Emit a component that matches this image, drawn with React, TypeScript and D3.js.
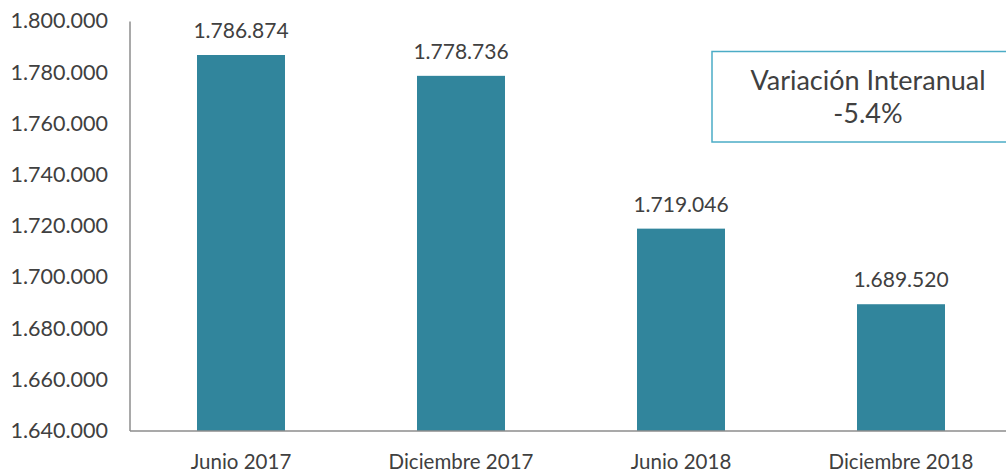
import React from "react";
import * as d3 from "d3";

const categories = ["Junio 2017", "Diciembre 2017", "Junio 2018", "Diciembre 2018"];
const values = [1786874, 1778736, 1719046, 1689520];
const yTicks = [1640000, 1660000, 1680000, 1700000, 1720000, 1740000, 1760000, 1780000, 1800000];
const boxLines = ["Variación Interanual", "-5.4%"];

const W = 1006;
const H = 473;
const FONT = "Lato, 'Open Sans', sans-serif";
const TEXT = "#404040";

const fmt = (v: number) =>
  d3.format(",")(v).replace(/,/g, ".");

export default function App() {
  const x = d3.scaleBand<string>().domain(categories).range([131, 1011]).paddingInner(0.6).paddingOuter(0.3);
  const y = d3.scaleLinear().domain([1640000, 1800000]).range([431, 21.4]);

  return (
    <div style={{ position: "absolute", left: 0, top: 0 }}>
      <svg width={W} height={H} style={{ display: "block", background: "#fff" }}>
        {/* bars */}
        {values.map((v, i) => (
          <rect
            key={i}
            x={x(categories[i])}
            y={y(v)}
            width={x.bandwidth()}
            height={y(1640000) - y(v)}
            fill="#31859C"
          />
        ))}
        {/* value labels */}
        {values.map((v, i) => (
          <text
            key={"l" + i}
            x={(x(categories[i]) as number) + x.bandwidth() / 2}
            y={y(v) - 17}
            textAnchor="middle"
            fontFamily={FONT}
            fontSize={21}
            fill={TEXT}
          >
            {fmt(v)}
          </text>
        ))}
        {/* axes */}
        <line x1={130} x2={130} y1={y(1800000)} y2={y(1640000)} stroke="#8c8c8c" strokeWidth={1.5} />
        <line x1={130} x2={W} y1={y(1640000)} y2={y(1640000)} stroke="#8c8c8c" strokeWidth={1.5} />
        {yTicks.map((t) => (
          <text
            key={t}
            x={108}
            y={y(t) + 7}
            textAnchor="end"
            fontFamily={FONT}
            fontSize={21.5}
            fill={TEXT}
          >
            {fmt(t)}
          </text>
        ))}
        {categories.map((c) => (
          <text
            key={c}
            x={(x(c) as number) + x.bandwidth() / 2}
            y={469}
            textAnchor="middle"
            fontFamily={FONT}
            fontSize={20.5}
            fill={TEXT}
          >
            {c}
          </text>
        ))}
        {/* annotation box */}
        <rect x={712} y={51.5} width={320} height={90.5} fill="#fff" stroke="#4BACC6" strokeWidth={1.5} />
        {boxLines.map((l, i) => (
          <text
            key={l}
            x={868}
            y={90 + i * 33}
            textAnchor="middle"
            fontFamily={FONT}
            fontSize={27}
            fill={TEXT}
          >
            {l}
          </text>
        ))}
      </svg>
    </div>
  );
}
